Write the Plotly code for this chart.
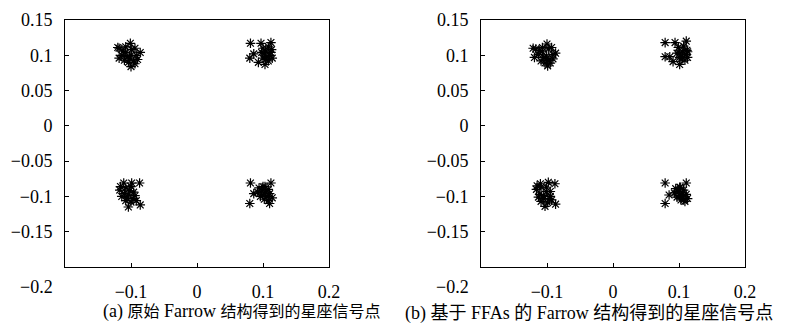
import plotly.graph_objects as go

# ---- data: constellation points (a) original Farrow, (b) FFA-based Farrow ----
a_x = [-0.118, -0.112, -0.108, -0.101, -0.099, -0.094, -0.086, -0.092, -0.100, -0.106,
       -0.114, -0.118, -0.110, -0.104, -0.096, -0.090, -0.100, -0.094, -0.108, -0.102, -0.120,
       0.081, 0.097, 0.112, 0.086, 0.080, 0.093, 0.103, 0.113, 0.100, 0.104, 0.108, 0.110,
       0.106, 0.102, 0.112, 0.098, 0.104, 0.108, 0.100, 0.114,
       -0.111, -0.099, -0.087, -0.117, -0.114, -0.104, -0.086, -0.097, -0.108, -0.102, -0.110,
       -0.104, -0.096, -0.100, -0.092, -0.100, -0.108, -0.116, -0.094, -0.106,
       0.081, 0.112, 0.086, 0.080, 0.110, 0.103, 0.094, 0.098, 0.104, 0.108, 0.100, 0.106,
       0.110, 0.096, 0.102, 0.108, 0.092, 0.114, 0.100]
a_y = [0.110, 0.106, 0.112, 0.117, 0.108, 0.110, 0.104, 0.100, 0.100, 0.098,
       0.100, 0.096, 0.093, 0.090, 0.092, 0.094, 0.084, 0.088, 0.104, 0.096, 0.111,
       0.117, 0.117, 0.118, 0.102, 0.096, 0.090, 0.087, 0.108, 0.110, 0.106, 0.112, 0.100,
       0.098, 0.102, 0.104, 0.104, 0.094, 0.092, 0.096, 0.096,
       -0.081, -0.081, -0.081, -0.091, -0.100, -0.115, -0.112, -0.103, -0.088, -0.092, -0.096,
       -0.098, -0.094, -0.086, -0.106, -0.108, -0.106, -0.086, -0.099, -0.102,
       -0.081, -0.081, -0.096, -0.110, -0.110, -0.086, -0.088, -0.092, -0.094, -0.090, -0.098, -0.100,
       -0.096, -0.100, -0.104, -0.106, -0.094, -0.102, -0.086]

b_x = [-0.117, -0.111, -0.107, -0.100, -0.098, -0.093, -0.087, -0.091, -0.101, -0.105,
       -0.113, -0.119, -0.109, -0.103, -0.097, -0.091, -0.099, -0.095, -0.107, -0.101, -0.121,
       0.079, 0.094, 0.111, 0.086, 0.079, 0.091, 0.101, 0.112, 0.099, 0.105, 0.107, 0.111,
       0.105, 0.101, 0.113, 0.097, 0.103, 0.109, 0.101, 0.113,
       -0.110, -0.098, -0.088, -0.116, -0.113, -0.103, -0.087, -0.096, -0.109, -0.101, -0.111,
       -0.105, -0.095, -0.101, -0.093, -0.099, -0.109, -0.115, -0.095, -0.105,
       0.079, 0.111, 0.085, 0.079, 0.109, 0.102, 0.095, 0.099, 0.105, 0.107, 0.101, 0.105,
       0.111, 0.097, 0.103, 0.107, 0.093, 0.113, 0.101]
b_y = [0.109, 0.107, 0.111, 0.116, 0.109, 0.111, 0.103, 0.101, 0.099, 0.097,
       0.101, 0.097, 0.092, 0.089, 0.093, 0.095, 0.085, 0.089, 0.105, 0.095, 0.110,
       0.118, 0.118, 0.120, 0.098, 0.098, 0.091, 0.087, 0.107, 0.111, 0.105, 0.113, 0.101,
       0.097, 0.103, 0.105, 0.103, 0.095, 0.093, 0.097, 0.097,
       -0.082, -0.080, -0.082, -0.090, -0.101, -0.114, -0.111, -0.104, -0.087, -0.093, -0.097,
       -0.099, -0.093, -0.087, -0.105, -0.109, -0.107, -0.085, -0.100, -0.103,
       -0.081, -0.081, -0.098, -0.110, -0.107, -0.087, -0.089, -0.093, -0.095, -0.091, -0.099, -0.101,
       -0.097, -0.101, -0.105, -0.105, -0.095, -0.103, -0.087]

x_ticks = [-0.2, -0.1, 0, 0.1, 0.2]
x_ticktext = ["", "\u22120.1", "0", "0.1", "0.2"]
y_ticks = [-0.2, -0.15, -0.1, -0.05, 0, 0.05, 0.1, 0.15]
y_ticktext = ["", "\u22120.15", "\u22120.1", "\u22120.05", "0", "0.05", "0.1", "0.15"]

cap_a = ("(a) ", "原始", " Farrow ", "结构得到的星座信号点")
cap_b = ("(b) ", "基于", " FFAs ", "的", " Farrow ", "结构得到的星座信号点")

SERIF = "Liberation Serif"
CJK = "Noto Sans CJK SC"


def caption(parts, cjk_size, latin_size):
    out = []
    for p in parts:
        if any(ord(c) > 0x2E80 for c in p):
            out.append('<span style="font-family:%s;font-size:%spx">%s</span>' % (CJK, cjk_size, p))
        else:
            out.append('<span style="font-family:%s;font-size:%spx">%s</span>' % (SERIF, latin_size, p))
    return "".join(out)


fig = go.Figure()
marker = dict(symbol="asterisk-open", size=8, color="black", line=dict(color="black", width=1.2))
fig.add_trace(go.Scatter(x=a_x, y=a_y, mode="markers", marker=marker, xaxis="x", yaxis="y",
                         showlegend=False, hoverinfo="skip"))
fig.add_trace(go.Scatter(x=b_x, y=b_y, mode="markers", marker=marker, xaxis="x2", yaxis="y2",
                         showlegend=False, hoverinfo="skip"))

W, H = 795, 327
ydom = [1 - 267 / H, 1 - 20 / H]
axis_common = dict(showgrid=False, zeroline=False, showline=True, linecolor="black", linewidth=1,
                   mirror=True, ticks="inside", ticklen=4, tickcolor="black", tickwidth=1,
                   automargin=False,
                   tickfont=dict(family=SERIF, size=18, color="black"))

fig.update_layout(
    template="none",
    width=W, height=H, margin=dict(l=0, r=0, t=0, b=0, pad=0), autosize=False,
    paper_bgcolor="white", plot_bgcolor="white",
    xaxis=dict(domain=[65 / W, 329 / W], range=[-0.2, 0.2], tickvals=x_ticks, ticktext=x_ticktext,
               anchor="y", ticklabelstandoff=8, **axis_common),
    yaxis=dict(domain=ydom, range=[-0.2, 0.15], tickvals=y_ticks, ticktext=y_ticktext,
               anchor="x", ticklabelstandoff=8, **axis_common),
    xaxis2=dict(domain=[481 / W, 745 / W], range=[-0.2, 0.2], tickvals=x_ticks, ticktext=x_ticktext,
                anchor="y2", ticklabelstandoff=8, **axis_common),
    yaxis2=dict(domain=ydom, range=[-0.2, 0.15], tickvals=y_ticks, ticktext=y_ticktext,
                anchor="x2", ticklabelstandoff=8, **axis_common),
)

for xr in (55, 471):
    fig.add_annotation(text="\u22120.2", xref="paper", yref="paper", x=xr / W, y=1 - 287 / H,
                       xanchor="right", yanchor="middle", showarrow=False,
                       font=dict(family=SERIF, size=18, color="black"))

fig.add_annotation(text=caption(cap_a, 16, 18), xref="paper", yref="paper", x=101 / W, y=1 - 310 / H,
                   xanchor="left", yanchor="middle", showarrow=False, font=dict(color="black"))
fig.add_annotation(text=caption(cap_b, 18, 18), xref="paper", yref="paper", x=403 / W, y=1 - 311 / H,
                   xanchor="left", yanchor="middle", showarrow=False, font=dict(color="black"))

fig.write_html("out.html", config={"displayModeBar": False, "staticPlot": True},
               post_script="document.body.style.margin='0';document.body.style.overflow='hidden';")
